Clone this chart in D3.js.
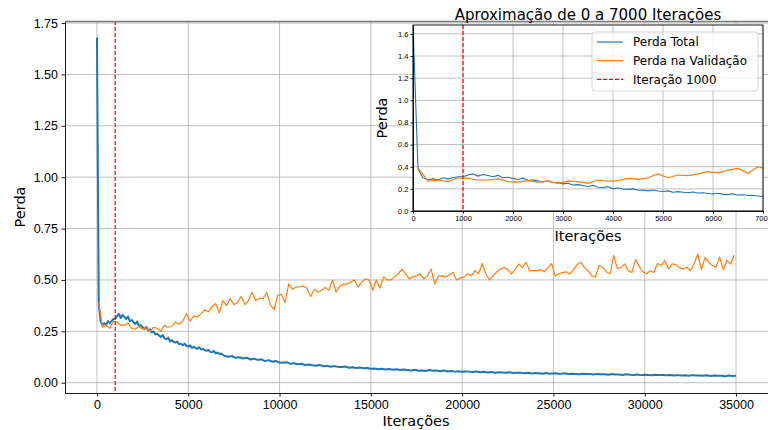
<!doctype html>
<html>
<head>
<meta charset="utf-8">
<style>
    body { margin: 0; background: #fff; }
    svg { display: block; font-family: "DejaVu Sans", sans-serif; }
    .grid line { stroke: #b0b0b0; stroke-width: 0.8; }
    .axis path, .axis line { stroke: #000; stroke-width: 0.9; }
    .axis text { fill: #000; }
</style>
<script src="https://d3js.org/d3.v7.min.js"></script>
</head>
<body>
<svg width="768" height="430"></svg>
<script>

// Perda Total, iterations 0..7000 every 100
var totalFineStep = 100;
var totalFine = [
    1.68, 0.38, 0.30, 0.28, 0.29, 0.28, 0.30, 0.29, 0.30, 0.31,
    0.31, 0.325, 0.335, 0.315, 0.33, 0.32, 0.31, 0.322, 0.30, 0.305,
    0.295, 0.285, 0.298, 0.275, 0.28, 0.27, 0.262, 0.272, 0.255, 0.26,
    0.245, 0.25, 0.235, 0.238, 0.23, 0.222, 0.232, 0.215, 0.212, 0.22,
    0.20, 0.208, 0.198, 0.195, 0.20, 0.188, 0.19, 0.182, 0.19, 0.18,
    0.176, 0.182, 0.17, 0.175, 0.17, 0.165, 0.172, 0.162, 0.165, 0.158,
    0.155, 0.16, 0.15, 0.148, 0.155, 0.143, 0.147, 0.14, 0.142, 0.136,
    0.13
];
// Perda Total, iterations 7200..35000 every 200
var totalCoarseStart = 7200, totalCoarseStep = 200;
var totalCoarse = [
    0.126, 0.130, 0.121, 0.124, 0.118, 0.122, 0.113, 0.117, 0.111, 0.114,
    0.105, 0.110, 0.102, 0.106, 0.098, 0.097, 0.100, 0.092, 0.095, 0.090,
    0.092, 0.086, 0.089, 0.085, 0.083, 0.087, 0.080, 0.083, 0.078, 0.081,
    0.077, 0.076, 0.079, 0.073, 0.075, 0.072, 0.074, 0.070, 0.072, 0.068,
    0.069, 0.066, 0.068, 0.064, 0.067, 0.063, 0.066, 0.062, 0.064, 0.062,
    0.060, 0.063, 0.058, 0.060, 0.057, 0.062, 0.058, 0.059, 0.056, 0.059,
    0.055, 0.057, 0.054, 0.056, 0.053, 0.055, 0.054, 0.052, 0.055, 0.051,
    0.053, 0.050, 0.052, 0.049, 0.051, 0.050, 0.048, 0.051, 0.047, 0.049,
    0.048, 0.046, 0.049, 0.045, 0.047, 0.046, 0.044, 0.047, 0.044, 0.046,
    0.045, 0.043, 0.046, 0.042, 0.044, 0.043, 0.041, 0.044, 0.042, 0.043,
    0.040, 0.043, 0.041, 0.041, 0.039, 0.042, 0.040, 0.040, 0.038, 0.041,
    0.039, 0.038, 0.040, 0.037, 0.039, 0.038, 0.036, 0.039, 0.037, 0.037,
    0.036, 0.038, 0.035, 0.037, 0.035, 0.036, 0.034, 0.037, 0.035, 0.035,
    0.034, 0.036, 0.033, 0.035, 0.034, 0.034, 0.032, 0.035, 0.033, 0.034
];
// Perda na Validação, iterations 100..34900 every 200
var valStart = 100, valStep = 200;
var valLoss = [
    0.39, 0.27, 0.28, 0.265, 0.30, 0.295, 0.28, 0.28, 0.29, 0.265,
    0.26, 0.275, 0.26, 0.27, 0.25, 0.27, 0.265, 0.25, 0.28, 0.27,
    0.275, 0.295, 0.285, 0.30, 0.335, 0.30, 0.325, 0.32, 0.335, 0.355,
    0.345, 0.37, 0.385, 0.34, 0.40, 0.375, 0.41, 0.38, 0.39, 0.42,
    0.38, 0.40, 0.44, 0.40, 0.41, 0.41, 0.44, 0.38, 0.355, 0.425,
    0.43, 0.39, 0.48, 0.455, 0.465, 0.467, 0.47, 0.46, 0.42, 0.455,
    0.44, 0.45, 0.464, 0.45, 0.50, 0.44, 0.47, 0.48, 0.48, 0.49,
    0.50, 0.465, 0.49, 0.505, 0.50, 0.45, 0.50, 0.46, 0.515, 0.50,
    0.50, 0.515, 0.53, 0.553, 0.53, 0.505, 0.515, 0.52, 0.53, 0.505,
    0.52, 0.553, 0.48, 0.52, 0.52, 0.514, 0.525, 0.536, 0.50, 0.51,
    0.514, 0.53, 0.52, 0.545, 0.53, 0.58, 0.53, 0.50, 0.52, 0.54,
    0.553, 0.56, 0.55, 0.53, 0.55, 0.578, 0.56, 0.586, 0.545, 0.545,
    0.545, 0.55, 0.54, 0.56, 0.58, 0.52, 0.53, 0.536, 0.54, 0.529,
    0.55, 0.575, 0.586, 0.56, 0.545, 0.52, 0.514, 0.57, 0.562, 0.54,
    0.53, 0.62, 0.555, 0.56, 0.578, 0.545, 0.536, 0.60, 0.565, 0.54,
    0.53, 0.545, 0.536, 0.58, 0.57, 0.595, 0.553, 0.578, 0.574, 0.56,
    0.553, 0.562, 0.545, 0.578, 0.627, 0.55, 0.61, 0.586, 0.57, 0.562,
    0.611, 0.55, 0.595, 0.578, 0.62
];

var mainXTicks = [0, 5000, 10000, 15000, 20000, 25000, 30000, 35000];
var mainYTicks = [0, 0.25, 0.5, 0.75, 1.0, 1.25, 1.5, 1.75];
var insetXTicks = [0, 1000, 2000, 3000, 4000, 5000, 6000, 7000];
var insetYTicks = [0, 0.2, 0.4, 0.6, 0.8, 1.0, 1.2, 1.4, 1.6];
var markIter = 1000;

var seriesNames = ["Perda Total", "Perda na Validação", "Iteração 1000"];
var blue = "#1f77b4", orange = "#ff7f0e", red = "#ff0000";

var totalPts = totalFine.map(function(v, i) { return [i * totalFineStep, v]; })
    .concat(totalCoarse.map(function(v, i) { return [totalCoarseStart + i * totalCoarseStep, v]; }));
var valPts = valLoss.map(function(v, i) { return [valStart + i * valStep, v]; });

var svg = d3.select("svg");

// ---------- main chart ----------
var mx = d3.scaleLinear().domain([-1750, 36750]).range([65, 768]),
    my = d3.scaleLinear().domain([-0.05, 1.76]).range([393, 21]);

function drawGrid(g, x, y, xt, yt) {
    var grid = g.append("g").attr("class", "grid");
    grid.selectAll(".gx").data(xt).enter().append("line")
        .attr("x1", function(d) { return x(d); }).attr("x2", function(d) { return x(d); })
        .attr("y1", y.range()[0]).attr("y2", y.range()[1]);
    grid.selectAll(".gy").data(yt).enter().append("line")
        .attr("y1", function(d) { return y(d); }).attr("y2", function(d) { return y(d); })
        .attr("x1", x.range()[0]).attr("x2", x.range()[1]);
}

drawGrid(svg, mx, my, mainXTicks, mainYTicks);

svg.append("clipPath").attr("id", "clipMain").append("rect")
    .attr("x", 65).attr("y", 21).attr("width", 703).attr("height", 372);

var mainLines = svg.append("g").attr("clip-path", "url(#clipMain)");
var mainLine = d3.line().x(function(d) { return mx(d[0]); }).y(function(d) { return my(d[1]); });

mainLines.append("path").datum(totalPts)
    .attr("fill", "none").attr("stroke", blue).attr("stroke-width", 2)
    .attr("stroke-linejoin", "round").attr("d", mainLine);
mainLines.append("path").datum(valPts)
    .attr("fill", "none").attr("stroke", orange).attr("stroke-width", 1.2)
    .attr("stroke-linejoin", "round").attr("d", mainLine);
mainLines.append("line")
    .attr("x1", mx(markIter)).attr("x2", mx(markIter))
    .attr("y1", 21).attr("y2", 393)
    .attr("stroke", red).attr("stroke-width", 1.2).attr("stroke-dasharray", "4,2");

svg.append("g").attr("class", "axis")
    .attr("transform", "translate(0,393)")
    .style("font-size", "12.5px")
    .call(d3.axisBottom(mx).tickValues(mainXTicks).tickFormat(d3.format("d"))
        .tickSize(3.5).tickPadding(3.5).tickSizeOuter(0));
svg.append("g").attr("class", "axis")
    .attr("transform", "translate(65,0)")
    .style("font-size", "12.5px")
    .call(d3.axisLeft(my).tickValues(mainYTicks).tickFormat(d3.format(".2f"))
        .tickSize(3.5).tickPadding(3.5).tickSizeOuter(0));

// top spine
svg.append("line").attr("x1", 65).attr("x2", 768).attr("y1", 21.5).attr("y2", 21.5)
    .attr("stroke", "#7a7a7a").attr("stroke-width", 1.6);

svg.append("text").attr("x", 416).attr("y", 426)
    .attr("text-anchor", "middle").style("font-size", "14.5px").text("Iterações");
svg.append("text").attr("transform", "translate(25,207) rotate(-90)")
    .attr("text-anchor", "middle").style("font-size", "14.5px").text("Perda");

// ---------- inset ----------
var ix = d3.scaleLinear().domain([0, 7000]).range([413, 763]),
    iy = d3.scaleLinear().domain([0, 1.68]).range([211, 25]);

svg.append("rect").attr("x", 413).attr("y", 25).attr("width", 350).attr("height", 186)
    .attr("fill", "#fff");

drawGrid(svg, ix, iy, insetXTicks, insetYTicks);

svg.append("clipPath").attr("id", "clipInset").append("rect")
    .attr("x", 413).attr("y", 24).attr("width", 350).attr("height", 187);

var insetLines = svg.append("g").attr("clip-path", "url(#clipInset)");
var insetLine = d3.line().x(function(d) { return ix(d[0]); }).y(function(d) { return iy(d[1]); });

insetLines.append("path").datum(totalPts.filter(function(d) { return d[0] <= 7400; }))
    .attr("fill", "none").attr("stroke", blue).attr("stroke-width", 1.1)
    .attr("stroke-linejoin", "round").attr("d", insetLine);
insetLines.append("path").datum(valPts.filter(function(d) { return d[0] <= 7400; }))
    .attr("fill", "none").attr("stroke", orange).attr("stroke-width", 1.2)
    .attr("stroke-linejoin", "round").attr("d", insetLine);
insetLines.append("line")
    .attr("x1", ix(markIter)).attr("x2", ix(markIter))
    .attr("y1", 25).attr("y2", 211)
    .attr("stroke", red).attr("stroke-width", 1.2).attr("stroke-dasharray", "4,2");

svg.append("g").attr("class", "axis")
    .attr("transform", "translate(0,211)")
    .style("font-size", "7.5px")
    .call(d3.axisBottom(ix).tickValues(insetXTicks).tickFormat(d3.format("d"))
        .tickSize(2.5).tickPadding(2).tickSizeOuter(0));
svg.append("g").attr("class", "axis")
    .attr("transform", "translate(413,0)")
    .style("font-size", "7.5px")
    .call(d3.axisLeft(iy).tickValues(insetYTicks).tickFormat(d3.format(".1f"))
        .tickSize(2.5).tickPadding(2).tickSizeOuter(0));

// inset frame
svg.append("rect").attr("x", 413).attr("y", 25).attr("width", 350).attr("height", 186)
    .attr("fill", "none").attr("stroke", "#000").attr("stroke-width", 0.9);

svg.append("text").attr("x", 588).attr("y", 20)
    .attr("text-anchor", "middle").style("font-size", "15px")
    .text("Aproximação de 0 a 7000 Iterações");
svg.append("text").attr("x", 588).attr("y", 241)
    .attr("text-anchor", "middle").style("font-size", "14.5px").text("Iterações");
svg.append("text").attr("transform", "translate(387,118) rotate(-90)")
    .attr("text-anchor", "middle").style("font-size", "14.5px").text("Perda");

// legend
var legend = svg.append("g");
legend.append("rect").attr("x", 592).attr("y", 32).attr("width", 166).attr("height", 59)
    .attr("rx", 3).attr("fill", "#fff").attr("fill-opacity", 0.8)
    .attr("stroke", "#cccccc").attr("stroke-width", 0.8);

var legendItems = legend.selectAll(".item")
    .data(seriesNames)
    .enter().append("g")
    .attr("transform", function(d, i) { return "translate(0," + (42 + i * 18.7) + ")"; });
legendItems.append("line")
    .attr("x1", 597).attr("x2", 623).attr("y1", 0).attr("y2", 0)
    .attr("stroke", function(d, i) { return [blue, orange, red][i]; })
    .attr("stroke-width", function(d, i) { return i === 2 ? 1.4 : 1.2; })
    .attr("stroke-dasharray", function(d, i) { return i === 2 ? "4,2" : null; });
legendItems.append("text")
    .attr("x", 633).attr("y", 0).attr("dy", "0.35em")
    .style("font-size", "12px")
    .text(function(d) { return d; });

</script>
</body>
</html>
